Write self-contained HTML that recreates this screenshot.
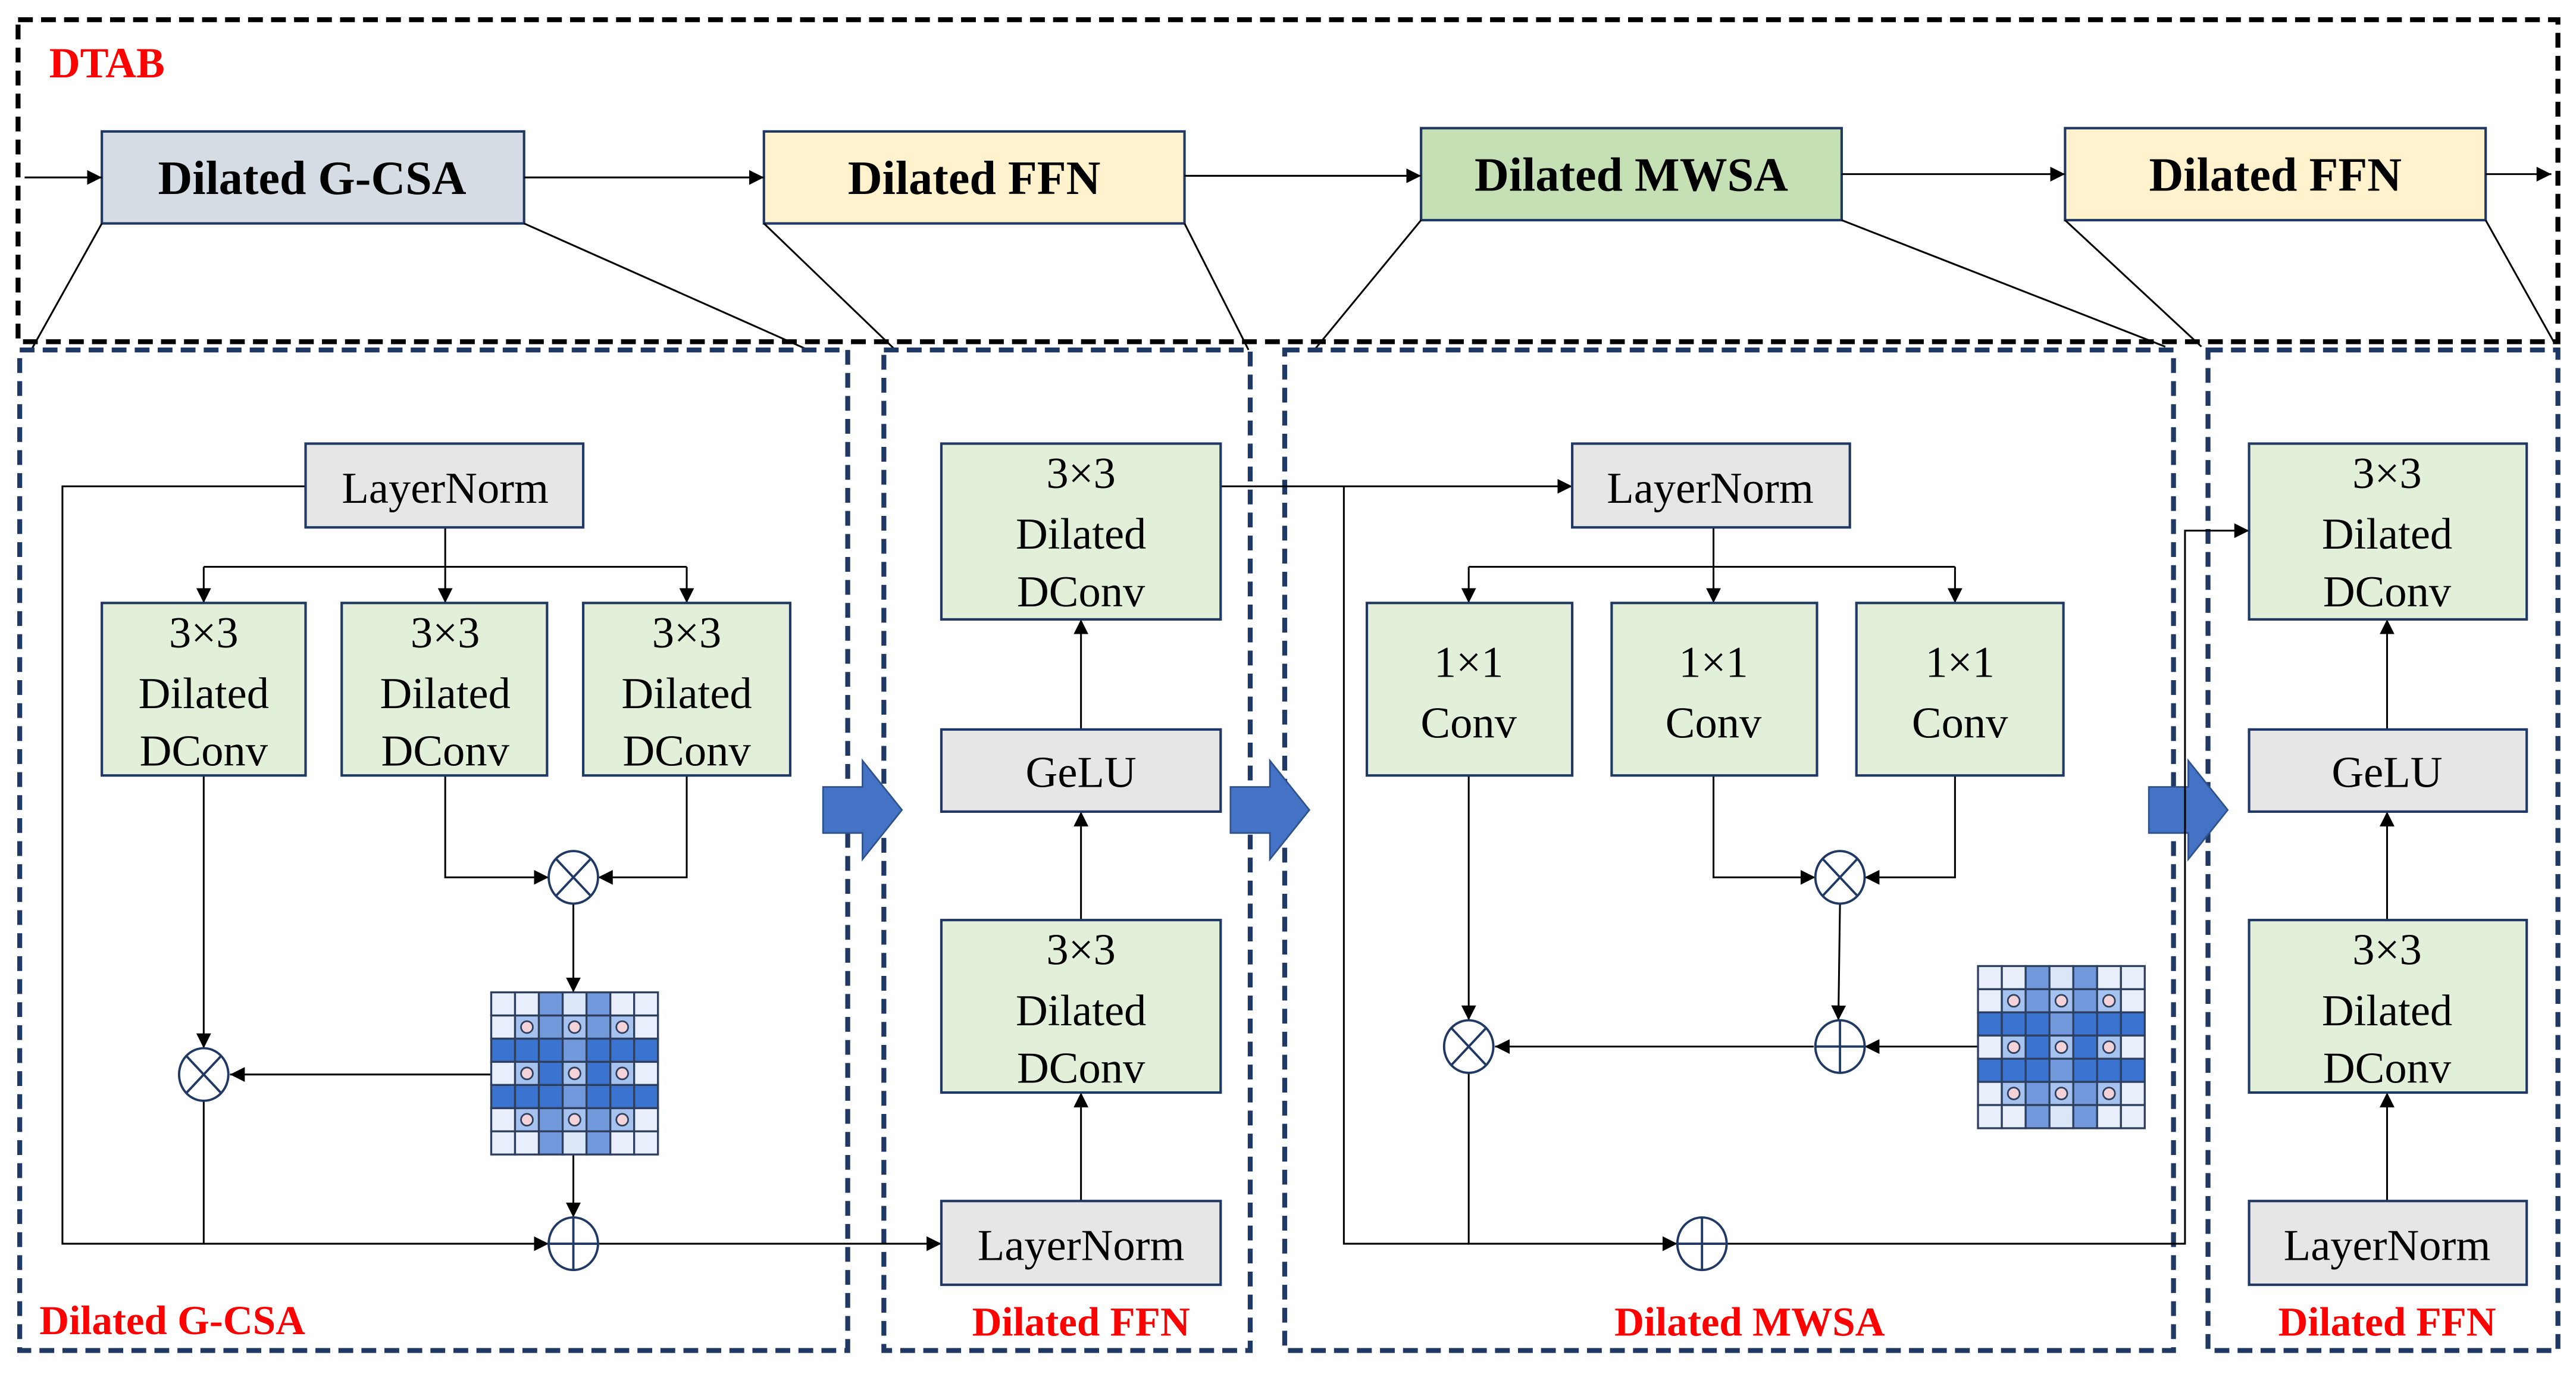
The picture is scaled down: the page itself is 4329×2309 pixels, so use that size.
<!DOCTYPE html>
<html><head><meta charset="utf-8"><style>
html,body{margin:0;padding:0;background:#fff}
svg{display:block}
svg text{font-family:"Liberation Serif","Times New Roman",serif !important}
</style></head><body>
<svg width="4329" height="2309" viewBox="0 0 1568 836.3" preserveAspectRatio="none" xmlns="http://www.w3.org/2000/svg" font-family="'Liberation Serif', serif">
<defs>
<marker id="a" viewBox="0 0 10 10" refX="10" refY="5" markerWidth="9" markerHeight="9" markerUnits="userSpaceOnUse" orient="auto"><path d="M0,0L10,5L0,10z" fill="#000"/></marker>
<g id="grid" stroke="#2e3f5e" stroke-width="1.2">
<rect x="0" y="0" width="14.5" height="14.1" fill="#e9effa"/><rect x="14.5" y="0" width="14.5" height="14.1" fill="#e9effa"/><rect x="29" y="0" width="14.5" height="14.1" fill="#7299dc"/><rect x="43.5" y="0" width="14.5" height="14.1" fill="#dbe6f8"/><rect x="58" y="0" width="14.5" height="14.1" fill="#7299dc"/><rect x="72.5" y="0" width="14.5" height="14.1" fill="#e9effa"/><rect x="87" y="0" width="14.5" height="14.1" fill="#e9effa"/>
<rect x="0" y="14.1" width="14.5" height="14.1" fill="#e9effa"/><rect x="14.5" y="14.1" width="14.5" height="14.1" fill="#a6c2ee"/><rect x="29" y="14.1" width="14.5" height="14.1" fill="#7299dc"/><rect x="43.5" y="14.1" width="14.5" height="14.1" fill="#a6c2ee"/><rect x="58" y="14.1" width="14.5" height="14.1" fill="#7299dc"/><rect x="72.5" y="14.1" width="14.5" height="14.1" fill="#a6c2ee"/><rect x="87" y="14.1" width="14.5" height="14.1" fill="#e9effa"/>
<rect x="0" y="28.2" width="14.5" height="14.1" fill="#3a74d0"/><rect x="14.5" y="28.2" width="14.5" height="14.1" fill="#3a74d0"/><rect x="29" y="28.2" width="14.5" height="14.1" fill="#3a74d0"/><rect x="43.5" y="28.2" width="14.5" height="14.1" fill="#7299dc"/><rect x="58" y="28.2" width="14.5" height="14.1" fill="#3a74d0"/><rect x="72.5" y="28.2" width="14.5" height="14.1" fill="#3a74d0"/><rect x="87" y="28.2" width="14.5" height="14.1" fill="#3a74d0"/>
<rect x="0" y="42.3" width="14.5" height="14.1" fill="#e9effa"/><rect x="14.5" y="42.3" width="14.5" height="14.1" fill="#a6c2ee"/><rect x="29" y="42.3" width="14.5" height="14.1" fill="#3a74d0"/><rect x="43.5" y="42.3" width="14.5" height="14.1" fill="#a6c2ee"/><rect x="58" y="42.3" width="14.5" height="14.1" fill="#3a74d0"/><rect x="72.5" y="42.3" width="14.5" height="14.1" fill="#a6c2ee"/><rect x="87" y="42.3" width="14.5" height="14.1" fill="#e9effa"/>
<rect x="0" y="56.4" width="14.5" height="14.1" fill="#3a74d0"/><rect x="14.5" y="56.4" width="14.5" height="14.1" fill="#3a74d0"/><rect x="29" y="56.4" width="14.5" height="14.1" fill="#3a74d0"/><rect x="43.5" y="56.4" width="14.5" height="14.1" fill="#7299dc"/><rect x="58" y="56.4" width="14.5" height="14.1" fill="#3a74d0"/><rect x="72.5" y="56.4" width="14.5" height="14.1" fill="#3a74d0"/><rect x="87" y="56.4" width="14.5" height="14.1" fill="#3a74d0"/>
<rect x="0" y="70.5" width="14.5" height="14.1" fill="#e9effa"/><rect x="14.5" y="70.5" width="14.5" height="14.1" fill="#a6c2ee"/><rect x="29" y="70.5" width="14.5" height="14.1" fill="#7299dc"/><rect x="43.5" y="70.5" width="14.5" height="14.1" fill="#a6c2ee"/><rect x="58" y="70.5" width="14.5" height="14.1" fill="#7299dc"/><rect x="72.5" y="70.5" width="14.5" height="14.1" fill="#a6c2ee"/><rect x="87" y="70.5" width="14.5" height="14.1" fill="#e9effa"/>
<rect x="0" y="84.6" width="14.5" height="14.1" fill="#e9effa"/><rect x="14.5" y="84.6" width="14.5" height="14.1" fill="#e9effa"/><rect x="29" y="84.6" width="14.5" height="14.1" fill="#7299dc"/><rect x="43.5" y="84.6" width="14.5" height="14.1" fill="#dbe6f8"/><rect x="58" y="84.6" width="14.5" height="14.1" fill="#7299dc"/><rect x="72.5" y="84.6" width="14.5" height="14.1" fill="#e9effa"/><rect x="87" y="84.6" width="14.5" height="14.1" fill="#e9effa"/>
<g fill="#f3d3d8" stroke-width="1">
<circle cx="21.75" cy="21.15" r="3.6"/><circle cx="50.75" cy="21.15" r="3.6"/><circle cx="79.75" cy="21.15" r="3.6"/>
<circle cx="21.75" cy="49.35" r="3.6"/><circle cx="50.75" cy="49.35" r="3.6"/><circle cx="79.75" cy="49.35" r="3.6"/>
<circle cx="21.75" cy="77.55" r="3.6"/><circle cx="50.75" cy="77.55" r="3.6"/><circle cx="79.75" cy="77.55" r="3.6"/>
</g>
</g>
<g id="otimes" fill="#fff" stroke="#1f3864" stroke-width="1.4"><ellipse cx="0" cy="0" rx="15" ry="16"/><path d="M-10.6,-11.3L10.6,11.3M10.6,-11.3L-10.6,11.3"/></g>
<g id="oplus" fill="#fff" stroke="#1f3864" stroke-width="1.4"><ellipse cx="0" cy="0" rx="15" ry="16"/><path d="M-15,0H15M0,-16V16"/></g>
<path id="barrow" d="M0,16H24V0L48,30L24,60V44H0z" fill="#4472c4" stroke="#2f528f" stroke-width="1"/>
</defs>

<rect x="11" y="12" width="1546" height="196" fill="none" stroke="#000" stroke-width="3" stroke-dasharray="9,5"/>
<text x="30" y="47" font-size="26" font-weight="bold" fill="#ff0000" font-family="'Liberation Serif', serif">DTAB</text>

<g stroke="#1f3864" stroke-width="1.5">
<rect x="62" y="80" width="257" height="56" fill="#d6dce4"/>
<rect x="465" y="80" width="256" height="56" fill="#fff2cc"/>
<rect x="865" y="78" width="256" height="56" fill="#c5e0b4"/>
<rect x="1257" y="78" width="256" height="56" fill="#fff2cc"/>
</g>
<g font-size="29" font-weight="bold" text-anchor="middle" font-family="'Liberation Serif', serif">
<text x="190" y="118">Dilated G-CSA</text>
<text x="593" y="118">Dilated FFN</text>
<text x="993" y="116">Dilated MWSA</text>
<text x="1385" y="116">Dilated FFN</text>
</g>
<g stroke="#000" stroke-width="1.1" fill="none">
<path d="M15,108H62" marker-end="url(#a)"/>
<path d="M319,108H465" marker-end="url(#a)"/>
<path d="M721,107H865" marker-end="url(#a)"/>
<path d="M1121,106H1257" marker-end="url(#a)"/>
<path d="M1513,106H1553" marker-end="url(#a)"/>
<path d="M62,136L19,213M319,136L492,213M465,136L545,213M721,136L760,213M865,134L800,213M1121,134L1318,211M1257,134L1340,211M1513,134L1555,209"/>
</g>

<g fill="none" stroke="#1f3864" stroke-width="3" stroke-dasharray="9,5">
<rect x="12" y="213" width="504" height="609"/>
<rect x="538" y="213" width="223" height="609"/>
<rect x="782" y="213" width="541" height="609"/>
<rect x="1344" y="213" width="213" height="609"/>
</g>
<g font-size="25" font-weight="bold" fill="#ff0000" font-family="'Liberation Serif', serif">
<text x="24" y="812">Dilated G-CSA</text>
<text x="658" y="813" text-anchor="middle">Dilated FFN</text>
<text x="1065" y="813" text-anchor="middle">Dilated MWSA</text>
<text x="1453" y="813" text-anchor="middle">Dilated FFN</text>
</g>

<use href="#barrow" x="501" y="463"/>
<use href="#barrow" x="749" y="463"/>
<use href="#barrow" x="1308" y="463"/>

<g stroke="#000" stroke-width="1.1" fill="none">
<path d="M271,321V345M124,345H418"/>
<path d="M124,345V367" marker-end="url(#a)"/>
<path d="M271,345V367" marker-end="url(#a)"/>
<path d="M418,345V367" marker-end="url(#a)"/>
<path d="M186,296H38V757H334" marker-end="url(#a)"/>
<path d="M271,472V534H334" marker-end="url(#a)"/>
<path d="M418,472V534H364" marker-end="url(#a)"/>
<path d="M349,550V604" marker-end="url(#a)"/>
<path d="M299,654H140" marker-end="url(#a)"/>
<path d="M124,472V638" marker-end="url(#a)"/>
<path d="M124,670V757"/>
<path d="M349,703V741" marker-end="url(#a)"/>
<path d="M364,757H573" marker-end="url(#a)"/>
<path d="M658,731V665" marker-end="url(#a)"/>
<path d="M658,560V494" marker-end="url(#a)"/>
<path d="M658,444V377" marker-end="url(#a)"/>
<path d="M743,296H957" marker-end="url(#a)"/>
<path d="M1043,321V345M894,345H1190"/>
<path d="M894,345V367" marker-end="url(#a)"/>
<path d="M1043,345V367" marker-end="url(#a)"/>
<path d="M1190,345V367" marker-end="url(#a)"/>
<path d="M1043,472V534H1105" marker-end="url(#a)"/>
<path d="M1190,472V534H1135" marker-end="url(#a)"/>
<path d="M1120,550L1119,621" marker-end="url(#a)"/>
<path d="M1204,637H1135" marker-end="url(#a)"/>
<path d="M1104,637H910" marker-end="url(#a)"/>
<path d="M894,472V621" marker-end="url(#a)"/>
<path d="M894,653V757H1021" marker-end="url(#a)"/>
<path d="M818,296V757H894"/>
<path d="M1051,757H1330V323H1369" marker-end="url(#a)"/>
<path d="M1453,731V665" marker-end="url(#a)"/>
<path d="M1453,560V494" marker-end="url(#a)"/>
<path d="M1453,444V377" marker-end="url(#a)"/>
</g>

<g stroke="#1f3864" stroke-width="1.5">
<rect x="186" y="270" width="169" height="51" fill="#e7e6e6"/>
<rect x="62" y="367" width="124" height="105" fill="#e2f0d9"/>
<rect x="208" y="367" width="125" height="105" fill="#e2f0d9"/>
<rect x="355" y="367" width="126" height="105" fill="#e2f0d9"/>
<rect x="573" y="270" width="170" height="107" fill="#e2f0d9"/>
<rect x="573" y="444" width="170" height="50" fill="#e7e6e6"/>
<rect x="573" y="560" width="170" height="105" fill="#e2f0d9"/>
<rect x="573" y="731" width="170" height="51" fill="#e7e6e6"/>
<rect x="957" y="270" width="169" height="51" fill="#e7e6e6"/>
<rect x="832" y="367" width="125" height="105" fill="#e2f0d9"/>
<rect x="981" y="367" width="125" height="105" fill="#e2f0d9"/>
<rect x="1130" y="367" width="126" height="105" fill="#e2f0d9"/>
<rect x="1369" y="270" width="169" height="107" fill="#e2f0d9"/>
<rect x="1369" y="444" width="169" height="50" fill="#e7e6e6"/>
<rect x="1369" y="560" width="169" height="105" fill="#e2f0d9"/>
<rect x="1369" y="731" width="169" height="51" fill="#e7e6e6"/>
</g>
<use href="#grid" x="299" y="604"/>
<use href="#grid" x="1204" y="588"/>
<use href="#otimes" x="349" y="534"/>
<use href="#otimes" x="124" y="654"/>
<use href="#oplus" x="349" y="757"/>
<use href="#otimes" x="1120" y="534"/>
<use href="#oplus" x="1120" y="637"/>
<use href="#otimes" x="894" y="637"/>
<use href="#oplus" x="1036" y="757"/>

<g font-size="27" text-anchor="middle" fill="#000" font-family="'Liberation Serif', serif">
<text x="271" y="306">LayerNorm</text>
<text x="124" y="394">3×3</text><text x="124" y="431">Dilated</text><text x="124" y="466">DConv</text>
<text x="271" y="394">3×3</text><text x="271" y="431">Dilated</text><text x="271" y="466">DConv</text>
<text x="418" y="394">3×3</text><text x="418" y="431">Dilated</text><text x="418" y="466">DConv</text>
<text x="658" y="297">3×3</text><text x="658" y="334">Dilated</text><text x="658" y="369">DConv</text>
<text x="658" y="479">GeLU</text>
<text x="658" y="587">3×3</text><text x="658" y="624">Dilated</text><text x="658" y="659">DConv</text>
<text x="658" y="767">LayerNorm</text>
<text x="1041" y="306">LayerNorm</text>
<text x="894" y="412">1×1</text><text x="894" y="449">Conv</text>
<text x="1043" y="412">1×1</text><text x="1043" y="449">Conv</text>
<text x="1193" y="412">1×1</text><text x="1193" y="449">Conv</text>
<text x="1453" y="297">3×3</text><text x="1453" y="334">Dilated</text><text x="1453" y="369">DConv</text>
<text x="1453" y="479">GeLU</text>
<text x="1453" y="587">3×3</text><text x="1453" y="624">Dilated</text><text x="1453" y="659">DConv</text>
<text x="1453" y="767">LayerNorm</text>
</g>
</svg>
</body></html>
